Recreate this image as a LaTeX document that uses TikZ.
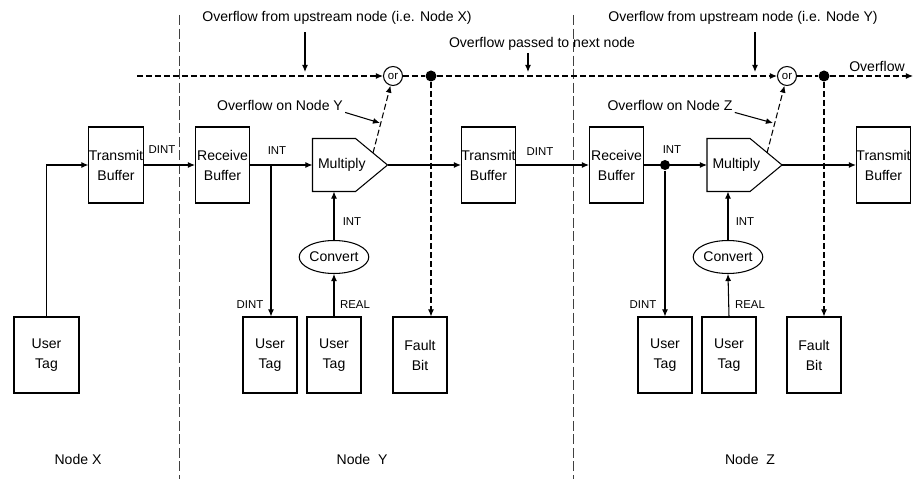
\documentclass[tikz,border=0pt]{standalone}
\usepackage{fontspec}
\setmainfont{Liberation Sans}
\usetikzlibrary{arrows.meta,shapes.geometric}

\begin{document}
\begin{tikzpicture}[x=0.02cm,y=-0.02cm,
    line width=0.6pt, >={Latex[length=4pt,width=3.4pt]},
    caja/.style={draw, minimum width=1.08cm, minimum height=1.52cm, inner sep=0pt,
        align=center, font=\fontsize{8}{11.4}\selectfont},
    mult/.style={minimum width=1.48cm, minimum height=1.04cm, inner xsep=0.1cm,
        inner ysep=0pt, text width=1.28cm, align=left,
        font=\fontsize{8}{10}\selectfont},
    conv/.style={draw, ellipse, minimum width=1.28cm, minimum height=0.66cm,
        inner sep=0pt, font=\fontsize{8}{10}\selectfont},
    puerta/.style={draw, circle, minimum size=0.38cm, inner sep=0pt,
        font=\fontsize{6.5}{8}\selectfont},
    punto/.style={fill, circle, minimum size=0.22cm, inner sep=0pt},
    etiq/.style={font=\fontsize{6.5}{8}\selectfont, inner sep=1pt},
    texto/.style={font=\fontsize{8}{10}\selectfont, inner sep=1pt},
    division/.style={draw=black!75, dash pattern=on 5.7pt off 2pt, line width=0.5pt},
    desborde/.style={dash pattern=on 3.4pt off 1.7pt}]

    \useasboundingbox (0,0) rectangle (914,479);

    % Divisiones entre nodos
    \draw[division] (179,15) -- (179,479);
    \draw[division] (573,15) -- (573,479);

    % Nodo X
    \node[caja, minimum width=1.3cm] (tagX) at (46.5,355) {User\\Tag};
    \node[caja] (tbX) at (116,165) {Transmit\\Buffer};

    % Nodo Y
    \node[caja] (rbY) at (222.5,165) {Receive\\Buffer};
    \node[mult] (mulY) at (350,165) {Multiply};
    \draw (mulY.north west) -- ([xshift=-0.64cm]mulY.north east) -- (mulY.east)
        -- ([xshift=-0.64cm]mulY.south east) -- (mulY.south west) -- cycle;
    \node[caja] (tbY) at (488.5,165) {Transmit\\Buffer};
    \node[conv] (cvY) at (334,257) {Convert};
    \node[caja] (utY1) at (270,355) {User\\Tag};
    \node[caja] (utY2) at (334,355) {User\\Tag};
    \node[caja] (fbY) at (420,355) {Fault\\Bit};
    \node[puerta] (orY) at (393,76) {or};
    \node[punto] (dotY) at (431,76) {};

    % Nodo Z
    \node[caja] (rbZ) at (616.5,165) {Receive\\Buffer};
    \node[mult] (mulZ) at (744.5,165) {Multiply};
    \draw (mulZ.north west) -- ([xshift=-0.64cm]mulZ.north east) -- (mulZ.east)
        -- ([xshift=-0.64cm]mulZ.south east) -- (mulZ.south west) -- cycle;
    \node[caja] (tbZ) at (883.5,165) {Transmit\\Buffer};
    \node[conv] (cvZ) at (728,257) {Convert};
    \node[caja] (utZ1) at (665,355) {User\\Tag};
    \node[caja] (utZ2) at (729,355) {User\\Tag};
    \node[caja] (fbZ) at (814,355) {Fault\\Bit};
    \node[puerta] (orZ) at (787,76) {or};
    \node[punto] (dotZ) at (824,76) {};
    \node[punto, minimum size=0.2cm] (brZ) at (665,165) {};

    % Puntos auxiliares
    \coordinate (inY) at (137,76);
    \coordinate (outZ) at (913,76);
    \coordinate (brY) at (271,165);
    \coordinate (ovY) at (373,153);
    \coordinate (ovZ) at (767,153);
    \coordinate (hitX) at (305,72);
    \coordinate (hitP) at (528,72);
    \coordinate (hitY) at (755,72);
    \coordinate (hitOvY) at (380,123);
    \coordinate (hitOvZ) at (773,123);

    % Flujo de datos
    \draw[->] (tagX.north) |- (tbX.west);
    \draw[->] (tbX.east) -- (rbY.west);
    \draw[->] (rbY.east) -- (mulY.west);
    \draw[->] (brY) -- (brY |- utY1.north);
    \draw[->] (mulY.east) -- (tbY.west);
    \draw[->] (utY2.north) -- (cvY.south);
    \draw[->] (cvY.north) -- (cvY.north |- mulY.south);
    \draw[->] (tbY.east) -- (rbZ.west);
    \draw[->] (rbZ.east) -- (mulZ.west);
    \draw[->] (brZ) -- (brZ |- utZ1.north);
    \draw[->] (mulZ.east) -- (tbZ.west);
    \draw[->] (utZ2.north) -- (cvZ.south);
    \draw[->] (cvZ.north) -- (cvZ.north |- mulZ.south);

    % Etiquetas de tipos
    \node[etiq] (dintX) at (162,150) {DINT};
    \node[etiq] (intY) at (277,151) {INT};
    \node[etiq] (intCvY) at (352,222) {INT};
    \node[etiq] (dintY) at (250,305) {DINT};
    \node[etiq] (realY) at (355,305) {REAL};
    \node[etiq] (dintYZ) at (540,152) {DINT};
    \node[etiq] (intZ) at (672,150) {INT};
    \node[etiq] (intCvZ) at (745,222) {INT};
    \node[etiq] (dintZ) at (643,305) {DINT};
    \node[etiq] (realZ) at (750,305) {REAL};

    % Linea de desborde
    \draw[desborde,->] (inY) -- (orY.west);
    \draw[desborde] (orY.east) -- (dotY);
    \draw[desborde,->] (dotY) -- (orZ.west);
    \draw[desborde] (orZ.east) -- (dotZ);
    \draw[desborde,->] (dotZ) -- (outZ);
    \draw[desborde,->] (dotY) -- (dotY |- fbY.north);
    \draw[desborde,->] (dotZ) -- (dotZ |- fbZ.north);
    \draw[desborde,->] (ovY) -- (orY);
    \draw[desborde,->] (ovZ) -- (orZ);

    % Textos y flechas de aviso
    \node[texto] (upX) at (337,18) {Overflow from upstream node (i.e. Node X)};
    \node[texto] (pass) at (542,44) {Overflow passed to next node};
    \node[texto] (upY) at (743,18) {Overflow from upstream node (i.e. Node Y)};
    \node[texto] (onY) at (280,105) {Overflow on Node Y};
    \node[texto] (onZ) at (670,105) {Overflow on Node Z};
    \node[texto] (outLbl) at (877,66) {Overflow};
    \draw[->] ([yshift=-3pt]upX.south -| hitX) -- (hitX);
    \draw[->] (pass.south -| hitP) -- (hitP);
    \draw[->] ([yshift=-3pt]upY.south -| hitY) -- (hitY);
    \draw[->] (onY.south east) -- (hitOvY);
    \draw[->] (onZ.south east) -- (hitOvZ);

    % Nombres de los nodos
    \node[texto] (nX) at (78,459) {Node X};
    \node[texto] (nY) at (362,459) {Node\ \ Y};
    \node[texto] (nZ) at (750,459) {Node\ \ Z};
\end{tikzpicture}
\end{document}
